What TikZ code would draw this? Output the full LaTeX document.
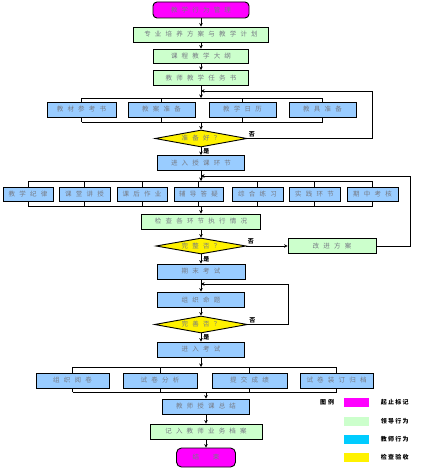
\documentclass[tikz,border=0pt]{standalone}
\usepackage{fontspec}
\setmainfont{Noto Sans CJK SC}
\usetikzlibrary{arrows.meta, shapes.geometric, positioning, calc}
\definecolor{startpink}{RGB}{255,0,255}
\definecolor{leadgreen}{RGB}{204,255,204}
\definecolor{teachblue}{RGB}{153,204,255}
\definecolor{legendcyan}{RGB}{0,204,255}
\definecolor{textgray}{RGB}{118,122,132}
\newlength\lsgap
\setlength\lsgap{4.2pt}
\makeatletter
\newcommand\ls[1]{\ls@first#1\relax}
\def\ls@first#1{#1\ls@next}
\def\ls@next#1{\ifx#1\relax\else\hspace{\lsgap}#1\expandafter\ls@next\fi}
\makeatother

\begin{document}
\begin{tikzpicture}[x=1pt, y=-1pt, >={Stealth[length=3.5pt,width=3.5pt]}, line width=0.9pt,
  box/.style={draw, inner sep=0pt, minimum height=15pt, text=textgray, font=\fontsize{6.5}{7}\selectfont},
  leadbox/.style={box, fill=leadgreen},
  teachbox/.style={box, fill=teachblue},
  termbox/.style={box, fill=startpink, rounded corners=4pt},
  checkbox/.style={box, diamond, fill=yellow, aspect=5.4, minimum width=92pt, minimum height=17pt},
  yes/.style={font=\fontsize{6}{6}\selectfont\bfseries, inner sep=1pt},
  swatch/.style={inner sep=0pt, minimum width=25pt, minimum height=9pt},
  legendtext/.style={font=\fontsize{6}{6}\selectfont\bfseries, inner sep=0pt}]
  \useasboundingbox (0,0) rectangle (422,468);

  \node[termbox, minimum width=96pt, minimum height=16pt] (start) at (201,10) {\ls{教学行为管理}};
  \node[leadbox, minimum width=135pt] (plan) at (201,34.5) {\ls{专业培养方案与教学计划}};
  \node[leadbox, minimum width=95pt, minimum height=14pt] (outline) at (201,56) {\ls{课程教学大纲}};
  \node[leadbox, minimum width=95pt] (task) at (201,78) {\ls{教师教学任务书}};
  \coordinate (j1) at (201,91);
  \coordinate (top1) at (201,98);
  \node[teachbox, minimum width=69pt] (ref) at (81.5,109.5) {\ls{教材参考书}};
  \node[teachbox, minimum width=67pt] (lessons) at (161.5,109.5) {\ls{教案准备}};
  \node[teachbox, minimum width=67pt] (calendar) at (242.5,109.5) {\ls{教学日历}};
  \node[teachbox, minimum width=67pt] (tools) at (322.5,109.5) {\ls{教具准备}};
  \coordinate (bot1) at (201,122);
  \node[checkbox] (ready) at (201,138.5) {\ls{准备好？}};
  \coordinate (fb1) at (372,91);
  \node[teachbox, minimum width=87pt] (teach) at (201,163) {\ls{进入授课环节}};
  \coordinate (j2) at (201,176);
  \coordinate (top2) at (201,181);
  \node[teachbox, minimum width=50pt, minimum height=14pt] (rules) at (28,194) {\ls{教学纪律}};
  \node[teachbox, minimum width=51pt, minimum height=14pt] (lecture) at (84.5,194) {\ls{课堂讲授}};
  \node[teachbox, minimum width=50pt, minimum height=14pt] (homework) at (142,194) {\ls{课后作业}};
  \node[teachbox, minimum width=49pt, minimum height=14pt] (tutor) at (198.5,194) {\ls{辅导答疑}};
  \node[teachbox, minimum width=51pt, minimum height=14pt] (practice) at (257.5,194) {\ls{综合练习}};
  \node[teachbox, minimum width=51pt, minimum height=14pt] (field) at (314.5,194) {\ls{实践环节}};
  \node[teachbox, minimum width=51pt, minimum height=14pt] (midterm) at (372.5,194) {\ls{期中考核}};
  \coordinate (bot2) at (201,206);
  \node[leadbox, minimum width=119pt] (inspect) at (201,221.5) {\ls{检查各环节执行情况}};
  \node[checkbox, minimum width=90pt, minimum height=16pt] (whole) at (201,246) {\ls{完整否？}};
  \node[leadbox, minimum width=88pt] (improve) at (332,246) {\ls{改进方案}};
  \coordinate (fb2) at (410,176);
  \node[teachbox, minimum width=88pt] (final) at (201,271.5) {\ls{期末考试}};
  \coordinate (j3) at (201,284);
  \node[teachbox, minimum width=87pt] (compose) at (201,299.5) {\ls{组织命题}};
  \node[checkbox, minimum width=93pt] (perfect) at (201,324.5) {\ls{完善否？}};
  \coordinate (fb3) at (288,284);
  \node[teachbox, minimum width=87pt] (enter) at (201,349.5) {\ls{进入考试}};
  \coordinate (top3) at (201,367);
  \node[teachbox, minimum width=73pt] (marking) at (72.5,380.5) {\ls{组织阅卷}};
  \node[teachbox, minimum width=74pt] (analysis) at (160,380.5) {\ls{试卷分析}};
  \node[teachbox, minimum width=75pt] (grades) at (249.5,380.5) {\ls{提交成绩}};
  \node[teachbox, minimum width=73pt] (binding) at (336.5,380.5) {\ls{试卷装订归档}};
  \coordinate (bot3) at (206,392);
  \node[teachbox, minimum width=87pt] (summary) at (206,406.5) {\ls{教师授课总结}};
  \node[leadbox, minimum width=112pt] (archive) at (206,431.5) {\ls{记入教师业务档案}};
  \node[termbox, minimum width=59pt, minimum height=19pt, rounded corners=5pt] (stop) at (206,457.5) {结\hspace{14pt}束};

  \draw[->] (start) -- (plan);
  \draw[->] (plan) -- (outline);
  \draw[->] (outline) -- (task);
  \draw[->] (task) -- (top1);
  \foreach \n in {ref,lessons,calendar,tools}
    \draw (\n.north) -- (\n.north |- top1) (\n.south) -- (\n.south |- bot1);
  \draw (ref.north |- top1) -- (tools.north |- top1) (ref.south |- bot1) -- (tools.south |- bot1);
  \draw[->] (bot1) -- (ready);
  \draw[->] (ready.east) -| (fb1) -- (j1);
  \node[yes, above right] at (ready.east) {否};
  \draw[->] (ready) -- (teach);
  \node[yes, right=1pt] at ($(ready.south)!0.5!(teach.north)$) {是};

  \draw[->] (teach) -- (top2);
  \foreach \n in {rules,lecture,homework,tutor,practice,field,midterm}
    \draw (\n.north) -- (\n.north |- top2) (\n.south) -- (\n.south |- bot2);
  \draw (rules.north |- top2) -- (midterm.north |- top2) (rules.south |- bot2) -- (midterm.south |- bot2);
  \draw[->] (bot2) -- (inspect);
  \draw[->] (inspect) -- (whole);
  \draw[->] (whole) -- (improve);
  \node[yes, above right] at (whole.east) {否};
  \draw[->] (improve.east) -| (fb2) -- (j2);
  \draw[->] (whole) -- (final);
  \node[yes, right=1pt] at ($(whole.south)!0.5!(final.north)$) {是};

  \draw[->] (final) -- (compose);
  \draw[->] (compose) -- (perfect);
  \draw[->] (perfect.east) -| (fb3) -- (j3);
  \node[yes, above right] at (perfect.east) {否};
  \draw[->] (perfect) -- (enter);
  \node[yes, right=1pt] at ($(perfect.south)!0.5!(enter.north)$) {是};

  \draw[->] (enter) -- (top3);
  \foreach \n in {marking,analysis,grades,binding}
    \draw (\n.north) -- (\n.north |- top3) (\n.south) -- (\n.south |- bot3);
  \draw (marking.north |- top3) -- (binding.north |- top3) (marking.south |- bot3) -- (binding.south |- bot3);
  \draw[->] (bot3) -- (summary);
  \draw[->] (summary) -- (archive);
  \draw[->] (archive) -- (stop);

  \node[legendtext] (legend) at (327,402) {图\hspace{2pt}例};
  \node[swatch, fill=startpink] (swstart) at (356.5,402.5) {};
  \node[swatch, fill=leadgreen] (swlead) at (356.5,421.5) {};
  \node[swatch, fill=legendcyan] (swteach) at (356.5,439) {};
  \node[swatch, fill=yellow] (swcheck) at (356.5,457.5) {};
  \node[legendtext, right=11pt of swstart] {起\hspace{1.2pt}止\hspace{1.2pt}标\hspace{1.2pt}记};
  \node[legendtext, right=11pt of swlead] {领\hspace{1.2pt}导\hspace{1.2pt}行\hspace{1.2pt}为};
  \node[legendtext, right=11pt of swteach] {教\hspace{1.2pt}师\hspace{1.2pt}行\hspace{1.2pt}为};
  \node[legendtext, right=11pt of swcheck] {检\hspace{1.2pt}查\hspace{1.2pt}验\hspace{1.2pt}收};
\end{tikzpicture}
\end{document}
